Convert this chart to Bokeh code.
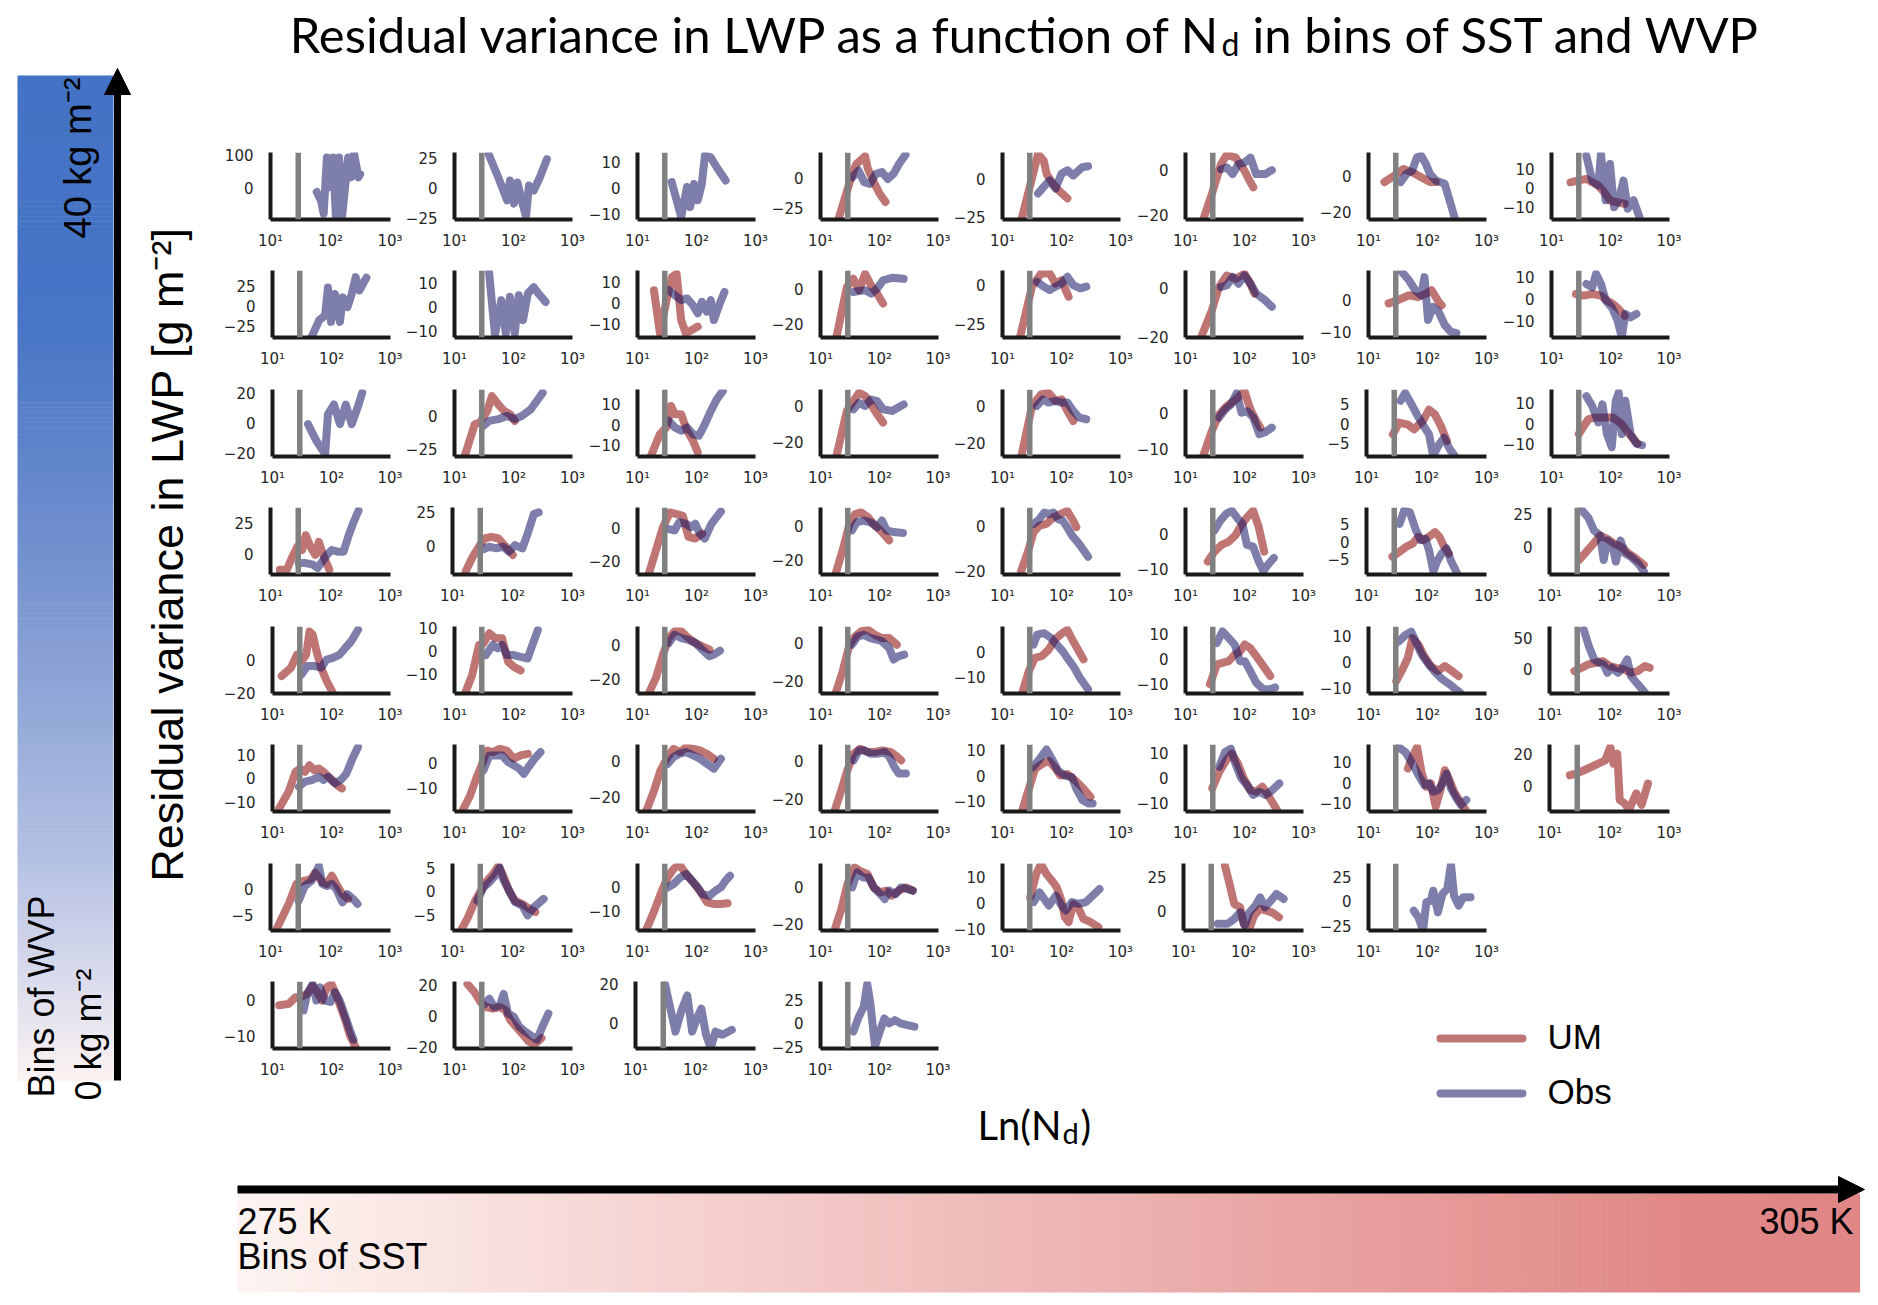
import numpy as np
from bokeh.plotting import figure
from bokeh.layouts import row, column
from bokeh.models import Range1d, FixedTicker, Span, ColumnDataSource
from bokeh.core.properties import value
from bokeh.embed import file_html
from bokeh.resources import INLINE

# ------------------------------------------------------------------ data
# x values are N_d (cm^-3), y values are residual LWP (g m^-2)
ND_MARK = 29
X_TICKS = [10, 100, 1000]
X_LABELS = ["10¹", "10²", "10³"]

# ---- row 1 (highest WVP bin)
R1_UM_N = [[], [], [],
           [20, 32, 40, 57, 63, 80, 100, 126],
           [21, 40, 50, 56, 71, 89, 126],
           [20, 28, 40, 50, 71, 100, 126, 141],
           [18.6, 27.5, 39, 55, 78, 110, 138],
           [21, 27.5, 39, 49, 62, 78, 98, 123, 174]]
R1_UM_V = [[], [], [],
           [-35, -2, 11, 18, 8, -3.6, -13, -20],
           [-26.6, 16.7, 12.4, 3.7, -2.8, -7.2, -12.6],
           [-22.2, -10.7, 2.7, 6.8, 5.6, -0.3, -5.5, -7.7],
           [-3.3, 0.4, 4, 2.2, -0.6, -3.3, -3.3],
           [3.1, 4, 4.9, 3.1, 1.4, -2.1, -6.4, -7.3, -8.2]]
R1_OBS_N = [[59, 69, 77, 87, 98, 110, 123, 139, 156, 175, 197, 220, 248, 292, 312],
            [38, 55, 78, 87, 102, 117, 138, 163, 183, 220, 279, 368],
            [38, 55, 69, 78, 91, 105, 123, 139, 175, 220, 312],
            [35, 44, 55, 69, 87, 110, 138, 173, 214, 275],
            [40, 50, 63, 79, 100, 126, 158, 224, 282],
            [40, 50, 63, 79, 100, 126, 158, 224, 290],
            [35, 44, 55, 66, 78, 94, 110, 138, 196, 246, 294],
            [39, 49, 62, 69, 83, 98, 115, 138, 166, 196, 246, 309]]
R1_OBS_V = [[-13, -38, -79, 93, 2, 93, -89, 93, -89, 2, 93, 32, 103, 32, 42],
            [28.6, 9.2, -10.3, 6.4, -13, 4.7, -10.3, -24, 2.2, -2, 9, 24.4],
            [2.2, -11.2, 0.3, -7.4, 1.5, -4.8, 1.5, 12.4, 11.7, 7.9, 2.8],
            [0.5, 6, -3.6, -5, 3.3, 4.7, -1, 3.3, 11.5, 19],
            [-9.3, -5, -0.7, -6, 3.7, 6, 2.6, 8, 8.7],
            [0.4, 1.2, -1.8, 2.7, 3.4, 5.6, -1.8, -1.8, 0],
            [-3.3, 1.3, 3.1, 10.5, 11.5, 6.9, 1.3, -2.4, -4.3, -15.4, -24.3],
            [17, 4, 1.4, 17.9, -6.4, 12.7, -10, -6.4, 4, -10.8, -6.4, -15.1]]
R1_YLIM = [(-97, 108), (-26.4, 30), (-12.2, 13.6), (-34.6, 21), (-26.6, 17.8),
           (-22.2, 7.9), (-24.3, 13.3), (-16.5, 18.8)]
R1_YTICKS = [[0, 100], [-25, 0, 25], [-10, 0, 10], [-25, 0], [-25, 0], [-20, 0],
             [-20, 0], [-10, 0, 10]]

# ---- row 2
R2_UM_N = [[], [],
           [19, 24, 31, 38.5, 46, 55, 66, 83, 105],
           [18.7, 28, 36, 45, 57, 72, 91, 115],
           [20, 31.6, 45, 63, 79, 100, 132],
           [18.6, 28, 37, 50, 71, 100, 126, 148],
           [22, 31, 49, 69, 94, 117, 155, 174],
           [26, 35, 49, 69, 87, 110, 138, 174]]
R2_UM_V = [[], [],
           [6.3, -14.2, 1.6, 12.6, 14.2, -7.9, -14.2, -12.6, -11],
           [-27.1, 0.9, 5.6, -0.9, 8.4, 1.9, -2.8, -8.4],
           [-33, -1, 7.5, 7.5, 1, 3.2, -7.5],
           [-19.7, -9.1, 0.3, 4.9, 3.6, 5.6, 1.6, -2.4],
           [-1, 0, 1.6, 1, 2.1, 3.2, -0.5, -1.6],
           [2.2, 1.5, 2.2, 1.5, -0.7, -2.2, -4.5, -7.5]]
R2_OBS_N = [[46, 62, 78, 87, 98, 115, 139, 156, 187, 220, 257, 298, 391],
            [38.5, 48.5, 62, 74, 87, 105, 123, 145, 175, 220, 265, 350],
            [34, 43, 55, 69, 87, 105, 123, 149, 175, 197, 248, 298],
            [36, 45, 57, 72, 91, 115, 163, 257],
            [38, 50, 63, 79, 100, 126, 158, 209, 263],
            [40, 50, 63, 79, 100, 126, 158, 224, 290],
            [37, 49, 62, 78, 89, 102, 123, 155, 196, 246, 309],
            [39, 49, 57, 69, 83, 105, 132, 155, 178, 219, 275]]
R2_OBS_V = [[-38.5, -17.6, -11.5, 23.4, -19.7, 15.2, -19.7, 11, -1.2, 15.2, 36.5, 19.7, 35.7],
            [14.6, -11.8, 2.8, -11.1, 4.2, -11.1, 4.9, -5.6, 5.6, 8.3, 5.6, 2.1],
            [6.3, 3.9, 1.6, 2.4, -0.8, -4.7, 0.8, -3.9, 1.6, -7.9, 0, 5.5],
            [-1.9, -1.3, -0.9, -2.8, 0, 4.7, 6.2, 5.6],
            [2.1, -1, -3.2, -1, 1, 5.3, 0, -2.1, -1],
            [0.3, 0.9, 4.3, 1.6, 4.9, 1.6, -2.4, -5.1, -7.7],
            [9, 6.3, 3.2, 1.6, 7.4, -6.3, -2.1, -3.7, -7.9, -10, -10.5],
            [6.7, 5.2, 11.2, 6.7, -0.7, -3.7, -9.7, -17, -6.7, -8.2, -6.7]]
R2_YLIM = [(-39.3, 44.7), (-12.9, 15.3), (-16.2, 15.7), (-27.7, 10.3), (-33.8, 9.4),
           (-20.1, 6.9), (-11.9, 9.5), (-17.2, 12.7)]
R2_YTICKS = [[-25, 0, 25], [-10, 0, 10], [-10, 0, 10], [-20, 0], [-25, 0], [-20, 0],
             [-10, 0], [-10, 0, 10]]

# ---- row 3
R3_UM_N = [[],
           [15, 22, 27, 36, 43, 55, 69, 87, 105],
           [17, 24, 31, 37, 43, 55, 69, 87, 105],
           [18.7, 28, 36, 45, 57, 72, 91, 115],
           [21, 31.6, 45, 60, 79, 100, 126, 158],
           [20, 28, 37, 50, 71, 100, 126, 158, 186],
           [27.5, 35, 49, 62, 87, 110, 138, 174, 219],
           [29, 42, 55, 78, 110, 155, 219, 288]]
R3_UM_V = [[],
           [-30, -6.3, -5, 3.8, 15, 8.8, 3.8, 1.3, -3.8],
           [-14.9, -4.5, -1.3, 9.1, 5.1, 5.1, -2.9, -7.7, -13.3],
           [-27.3, -2.7, 2.7, 7.3, 5.5, 0.9, -4.5, -9.1],
           [-26.5, 0, 6.2, 7.1, 2.7, 3.5, -2.7, -8],
           [-11.9, -4.9, -0.3, 2, 3.9, 6.2, 1.1, -2.1, -4],
           [-2.7, 0.3, -0.2, -1.4, 0.7, 3.6, 2.4, -0.6, -4.4],
           [-5.2, 2.1, 3, 3, 3, -0.3, -6.1, -10]]
R3_OBS_N = [[40, 55, 78, 87, 110, 139, 175, 220, 265, 332],
            [31, 38.5, 55, 78, 105, 139, 197, 248, 312],
            [34, 43, 55, 69, 87, 110, 139, 175, 220, 279],
            [36, 45, 57, 72, 91, 115, 163, 230, 257],
            [38, 48, 60, 79, 100, 126, 158, 200, 263],
            [37, 47, 59, 74, 89, 112, 141, 178, 224, 290],
            [37, 44, 55, 69, 87, 110, 129, 162, 196, 246, 294],
            [39, 49, 62, 73, 87, 105, 123, 138, 155, 178, 219, 275, 343]]
R3_OBS_V = [[-1.1, -12, -21, 5.5, 12, -1.1, 12, -1.1, 7.7, 19.8],
            [-7.5, -3.8, -2.5, 0, -2.5, 0, 5, 11.3, 17.5],
            [1.9, -1.3, -2.9, -1.3, -4.5, -5.3, 0.3, 6.7, 12.3, 16.3],
            [-1.8, 1.8, 0, 3.6, 2.7, -1.8, -2.7, 0, 0.9],
            [0, 3.5, 1.8, 2.7, 1.8, 1.8, -2.7, -6.2, -7.1],
            [-1.2, 1.1, 2.5, 5.7, 0.2, 0.6, -1.2, -5.8, -5.3, -4],
            [5.9, 7.9, 5.3, 2.4, -0.2, -2.7, -8.2, -5.3, -3.6, -6.6, -8.2],
            [13.6, 8.7, 0.5, 9.5, -5.2, -11.8, 11.3, 15.4, -5.2, 11.3, -5.2, -10, -10.8]]
R3_YLIM = [(-22.6, 22), (-30.8, 20), (-15.4, 17.1), (-27.8, 9.1), (-27, 8.8),
           (-12.1, 6.7), (-8.4, 8.8), (-16.4, 16.9)]
R3_YTICKS = [[-20, 0, 20], [-25, 0], [-10, 0, 10], [-20, 0], [-20, 0], [-10, 0],
             [-5, 0, 5], [-10, 0, 10]]

# ---- row 4
R4_UM_N = [[14.3, 18.8, 22.5, 28, 33.6, 38.7, 46.4, 55.6, 64, 77, 95.6],
           [16.6, 21.8, 27.5, 34, 44.6, 58.6, 77, 101],
           [15.7, 20.6, 27, 35.5, 46.4, 58.6, 73, 95.6, 125],
           [18.2, 23.8, 31, 38.7, 49, 64, 84, 110, 146],
           [20.6, 27, 33.6, 42.4, 55.6, 73, 95.6, 125, 158, 179],
           [23.8, 31, 41, 54, 70, 88, 110, 140, 174, 216],
           [27, 35.5, 46, 58.6, 73, 88, 108, 138, 165, 197, 236],
           [31, 41, 54, 70, 92, 121, 158, 209, 273, 373]]
R4_UM_V = [[-12.4, -12.4, -3.2, 6.1, 3.4, 15.3, 6.1, -0.5, 10, -1.8, -12.4],
           [-18.7, -7.8, -0.5, 5.6, 6.8, 5.6, -0.5, -6.6],
           [-27.3, -13.5, 0.4, 9.3, 8.3, 7.3, -5.5, -6.5, -3.6],
           [-27.3, -13.8, 1.5, 7.3, 8.3, 5.4, 0.6, -3.3, -8.1],
           [-20, -11.4, -2.9, 0, 0.7, 3.6, 5, 6.4, 2.1, -0.7],
           [-7.9, -5.1, -3.2, -2.3, -0.5, 2.3, 4.6, 6.5, 1.9, -5.1],
           [-4.2, -2.8, -1.4, -0.5, 1.4, 0.5, 1.4, 2.8, 1.4, -1.4, -3.3],
           [-9.8, -3.7, 2.5, 8.6, 6.1, 2.5, 0, -4.9, -8.6, -13.5]]
R4_OBS_N = [[29.5, 38.7, 51, 61, 73, 87, 105, 132, 165, 197, 236, 293],
            [31, 40.9, 54, 70, 87.6, 110, 146, 179, 227, 273],
            [32.4, 42.4, 51, 66.7, 80, 95.6, 114, 138, 179, 259],
            [34, 40.9, 54, 70, 92, 110, 132, 174, 250],
            [33.6, 42.4, 51, 61, 73, 87, 105, 125, 150, 197, 236, 282],
            [31, 39, 49, 61, 77, 92, 110, 140, 174, 209, 250, 315],
            [35.5, 42.4, 53, 66.7, 80, 95.6, 110, 130, 150, 179, 216, 259, 322],
            [34, 44.6, 55.6, 70, 80, 92, 110, 128, 153, 182, 227, 298, 373]]
R4_OBS_V = [[-7.1, -7.1, -8.4, -11, -5.8, -0.5, 3.4, 2.1, 2.1, 13.9, 24.5, 35],
            [-2.9, -0.5, -1.7, -0.5, -4.1, 0.7, -1.7, 9.2, 23.8, 25],
            [-0.6, -1.6, 3.4, 2.4, 0.4, 2.4, -3.6, -6.5, 2.4, 9.9],
            [-2.3, 2.5, 3.5, 2.5, -0.4, 3.5, -2.3, -3.3, -3.8],
            [0.7, 2.9, 5.7, 5, 5.7, 2.9, 2.1, -0.7, -4.3, -7.9, -10.7, -13.6],
            [0.9, 3.7, 5.6, 6.5, 4.2, 2.8, -3.2, -3.7, -7.9, -10.6, -8.8, -6.9],
            [5.1, 8.9, 8.4, 3.3, 0.5, 0.9, -2.3, -8.4, -5.6, -3.3, -1.9, -5.6, -8.9],
            [28.2, 22.1, 12.3, 8.6, -9.8, 4.9, 2.5, -11, 4.9, -4.9, -7.4, -12.3, -18.4]]
R4_YLIM = [(-16.3, 37.6), (-21.1, 28.6), (-28.3, 12.3), (-28.3, 11.2), (-21.4, 7.9),
           (-11.6, 7.4), (-9.3, 9.8), (-20.8, 29.9)]
R4_YTICKS = [[0, 25], [0, 25], [-20, 0], [-20, 0], [-20, 0], [-10, 0], [-5, 0, 5], [0, 25]]

# ---- row 5
R5_UM_N = [[14.3, 20.6, 26, 31, 37.3, 42.4, 48, 55.6, 66.7, 82.8, 105],
           [15, 19.9, 26, 31, 39, 49, 64, 81, 101, 132],
           [15.7, 20.6, 27, 34, 42.4, 55.6, 73, 95.6, 125, 165],
           [18.2, 23.8, 31, 38.7, 49, 64, 84, 110, 146, 197],
           [21.8, 28, 35.5, 46.4, 61, 77, 95.6, 125, 158, 197, 236],
           [26, 34, 42.4, 54, 68, 84, 101, 125, 158, 209, 273],
           [29.5, 38.7, 46.4, 55.6, 70, 88, 114, 150, 197, 259, 337],
           [26, 34, 44.6, 58.6, 77, 101, 132, 174, 227, 298, 390, 466]]
R5_UM_V = [[-9.7, -4.5, 3.7, -0.4, 3.7, 18.1, 16.1, 5.8, -4.5, -12.8, -20],
           [-18.4, -10.4, 2.6, 3.3, 7.7, 5.5, 5.5, -4.6, -6.8, -8.3],
           [-27.8, -19, -5.4, 4.3, 8.2, 8.2, 4.3, 1.4, -0.6, -2.5],
           [-26.1, -14.8, -0.9, 3.5, 6.1, 7, 4.3, 2.6, 2.6, -0.9],
           [-16.3, -7.6, -2.3, -1.6, 1.1, 5.1, 7.1, 9.1, 4.4, 0.4, -2.9],
           [-10.1, -2.2, -1.6, -0.9, 1.7, 3, 5.7, 4.3, 1.1, -2.9, -6.8],
           [-7.3, -2.2, 1.7, 9.3, 6.8, 2.3, -1.5, -3.4, -1.5, -3.4, -5.4],
           [-2.6, 2.6, 7.9, 10.5, 13.2, 5.3, 2.6, 0, -5.3, -2.6, 5.3, 2.6]]
R5_OBS_N = [[31, 38.7, 51, 66.7, 82.8, 105, 138, 171, 216, 282],
            [34, 44.6, 54, 64, 77, 101, 132, 174, 209, 259],
            [34, 42.4, 55.6, 73, 95.6, 125, 165, 197, 250],
            [34, 43, 54, 70, 92, 110, 146, 174, 209, 262],
            [33.6, 38.7, 51, 66.7, 82.8, 105, 125, 165, 204, 282],
            [34, 42.4, 54, 68, 84, 101, 125, 158, 209, 273, 330],
            [32.4, 42.4, 53, 63, 80, 105, 138, 179, 236, 298, 354],
            [37.3, 46.4, 55.6, 66.7, 80, 92, 110, 138, 158, 197, 227, 298, 390]]
R5_OBS_V = [[-8.7, -3.5, -3.5, -4.5, 0.6, 1.6, 3.7, 7.8, 12, 19.2],
            [-1.7, 2.6, 1.2, 2.6, -1.7, -1.7, -2.5, -3.2, 2.6, 9.1],
            [1.4, 6.2, 4.3, 3.3, 1.4, -2.5, -6.4, -5.4, -3.1],
            [-0.9, 3.5, 4.3, 2.6, 1.7, 0.9, -2.6, -8.7, -7, -6.1],
            [3.1, 7.1, 7.7, 5.7, 3.1, 0.4, -2.3, -6.3, -10.3, -15],
            [6.3, 10.9, 8.3, 5.7, -0.9, -0.9, -4.9, -9.5, -12.1, -12.1, -11.4],
            [8, 10.5, 11.8, 8, 2.9, -0.9, -4.1, -6.6, -8.5, -10.4, -11.7],
            [63, 34, 15.8, 10.5, 7.9, -5.3, 2.6, -5.3, 0, 15.8, -10.5, -23.7, -36.8]]
R5_YLIM = [(-20.6, 21.2), (-18.3, 10.6), (-28.3, 11.1), (-26.6, 8.7), (-16.7, 10.4),
           (-13.8, 12.9), (-12.1, 13.8), (-38.4, 68.4)]
R5_YTICKS = [[-20, 0], [-10, 0, 10], [-20, 0], [-20, 0], [-10, 0], [-10, 0, 10],
             [-10, 0, 10], [0, 50]]

# ---- row 6
R6_UM_N = [[13, 18.8, 24.6, 29.5, 35.5, 42.4, 51, 61, 73, 95.6, 125, 150],
           [13.9, 18.1, 23.8, 29.5, 35.5, 44.6, 58.6, 77, 101, 132, 174],
           [14.3, 18.8, 24.6, 32.4, 40.9, 53, 66.7, 87.6, 114, 150, 197],
           [17.6, 22.6, 28.6, 36.3, 46.9, 62.5, 85, 111, 155, 201, 233],
           [21.8, 28, 35.5, 46.4, 61, 77, 95.6, 125, 171, 236, 310],
           [28.4, 37.3, 49, 61, 77, 97, 125, 158, 201, 259, 354],
           [46.4, 55.6, 66.7, 80, 95.6, 114, 138, 165, 197, 236, 282, 370, 441],
           [21.8, 28.6, 37.7, 49.5, 65, 85, 103, 117, 135, 148, 178, 212, 280, 343, 438]]
R6_UM_V = [[-12.9, -5.7, 2.9, 4.3, 2.9, 5.7, 3.6, 4.3, 2.9, 0, -2.9, -4.3],
           [-18.4, -13.2, -5.5, -0.3, 4.9, 4.3, 5.6, 4.9, 1.7, 3, 3.6],
           [-26.9, -16.9, -5.1, 2.2, 6.7, 4.9, 7.6, 6.7, 5.8, 4, 1.3],
           [-25.5, -15.2, -4.8, 3.8, 6.4, 4.7, 4.7, 5.5, 4.7, 2.1, 0.3],
           [-13.5, -5.2, 2.6, 4.5, 5.8, 3.2, 0, 0.6, -1.9, -5.2, -8.4],
           [-3.9, 2.6, 7.2, 9.9, 5.9, 0, -4.6, -5.3, -3.3, -7.2, -12.5],
           [6.9, 12.5, 17.3, 4.5, -1.9, -0.3, -11.5, -3.5, 6.1, 1.3, -4.3, -9.9, -13.1],
           [6.7, 7.8, 9.8, 11.8, 13.9, 15.9, 24.1, 13.9, 20, -8.6, -10.6, -14.7, -4.5, -11.6, 1.6]]
R6_OBS_N = [[28, 35.5, 46.4, 61, 73, 87, 114, 143, 179, 227, 282],
            [31, 39, 49, 64, 81, 101, 125, 150, 179, 227, 287],
            [32.4, 40.9, 51, 66.7, 87.6, 114, 150, 197, 259],
            [36.3, 45, 56, 71, 94, 123, 148, 178, 212, 280],
            [32.4, 42.4, 55.6, 69, 88, 114, 150, 179, 227, 282, 337],
            [37.3, 47, 58.6, 70, 88, 110, 140, 179, 227, 298, 390],
            [32.4, 42.4, 55.6, 73, 88, 105, 125, 150, 179, 209, 250, 298, 370, 456],
            []]
R6_OBS_V = [[-3.6, -1.4, -0.7, 0.7, -0.7, 0.7, -2.1, -0.7, 2.1, 8.6, 13.6],
            [-2.9, 3, 3, 3, 0.4, -0.9, -2.2, -4.2, -1.6, 1.7, 4.3],
            [-1.5, 2.2, 4, 4.9, 3.1, 1.3, -1.5, -4.2, 1.3],
            [0.3, 5.5, 5.5, 3.8, 3.8, 4.7, 2.1, -3.1, -6.6, -6.6],
            [3.2, 6.5, 10.3, 6.5, 1.9, 0, -0.6, -5.2, -9.7, -11, -11],
            [4.6, 10.5, 11.8, 5.9, 0, -2.6, -6.6, -5.3, -6.6, -4.6, -2],
            [17.3, 14.9, 9.3, 2.9, -1.1, -0.3, -4.3, -3.5, -0.3, 4.5, -2.7, -6.7, -10.7, -8.3],
            []]
R6_YLIM = [(-14.3, 14.7), (-19.1, 7.3), (-27.8, 9.1), (-26.4, 8.6), (-14.2, 12.3),
           (-13.2, 13.5), (-13.9, 18.6), (-15.7, 25.7)]
R6_YTICKS = [[-10, 0, 10], [-10, 0], [-20, 0], [-20, 0], [-10, 0, 10], [-10, 0, 10],
             [-10, 0, 10], [0, 20]]

# ---- row 7
R7_UM_N = [[12.6, 15.7, 20.6, 27, 35.5, 46.4, 55.6, 73, 87, 105, 125, 158, 197],
           [14.3, 18.1, 23.8, 31, 37.3, 47, 58.6, 70, 88, 110, 146, 190, 240],
           [14.3, 18.8, 24.6, 32.4, 40.9, 51, 66.7, 87.6, 114, 150, 197, 259, 337],
           [17.6, 22.6, 28.6, 37.7, 46.9, 62.5, 80, 103, 130, 163, 212, 280, 366],
           [29.5, 37.3, 44.6, 55.6, 69, 82.8, 100, 114, 132, 158, 190, 236, 310, 422],
           [49, 58.6, 70, 88, 101, 125, 150, 190, 240, 298, 390],
           []]
R7_UM_V = [[-7.8, -5.5, -2.6, 1, 1.6, 1.9, 3.2, 1.3, 1, 2.6, 1, -1, -1.9],
           [-7.9, -5.5, -2, 0.5, 2.2, 3.6, 5.4, 3.3, 0.1, -2, -2.7, -3.7, -4.4],
           [-17.6, -10.7, -3.1, 3.9, 7.4, 9.4, 5.3, 1.8, -1.7, -6.5, -7.2, -7.2, -6.9],
           [-22.3, -11.8, 1.4, 10.2, 8.4, 6.7, -0.4, -3, -2.1, -4.7, -2.1, -0.4, -2.1],
           [2.2, 11.2, 15.1, 11.2, 8.6, 6.1, 0.9, -5.5, -7.4, -0.4, -1.7, -6.2, -7.4, -9.4],
           [33.8, 20, 5, 2.5, -10, -13.8, -3.8, 1.3, 0, -1.3, -5],
           []]
R7_OBS_N = [[29.5, 37.3, 48, 55.6, 64, 73, 87, 105, 125, 158, 190, 236, 282],
            [26, 32.6, 41, 51, 61, 70, 88, 110, 146, 179, 227, 330],
            [32.4, 40.9, 53, 66.7, 84, 105, 125, 165, 209, 259, 310, 370],
            [34.5, 41.7, 52.5, 65, 80, 103, 123, 148, 187, 233, 290, 366],
            [33.6, 42.4, 51, 61, 80, 100, 118, 150, 197, 259, 337, 441],
            [37.3, 54, 70, 88, 105, 125, 158, 190, 227, 287, 354, 466],
            [58.6, 70, 84, 95.6, 114, 125, 150, 179, 216, 250, 282, 337, 403, 536]]
R7_OBS_V = [[-2.3, 0.6, 1.6, 2.9, 4.5, 1, 0.6, 1, 0, -2.6, -1, -1.9, -2.9],
            [-2, 0.8, 1.9, 3.3, 5, 2.6, 0.1, -2.3, -3, -5.1, -3.4, -1.6],
            [-0.3, 1.1, 3.9, 5.3, 2.5, -0.3, -3.1, -3.8, -1.7, -0.3, 2.5, 4.6],
            [-0.4, 7.6, 4.9, 4.9, -0.4, -3.9, -6.5, -2.1, -3.9, -0.4, -1.2, -2.1],
            [0.3, 4.1, 1.5, -1, 2.8, -1, -2.9, 0.3, -0.4, 0.3, 2.8, 5.4],
            [-10, -10, -6.3, -1.3, -11.3, -1.3, 3.8, 10, 2.5, 7.5, 12.5, 8.8],
            [-9.5, -16.2, -29.7, -1, 0.7, 10.8, -11.1, 7.4, 12.5, 37.8, 5.7, -4.4, 4.1, 4.1]]
R7_YLIM = [(-8.1, 5), (-8.3, 5.9), (-18.3, 9.7), (-23.2, 12.3), (-10.7, 15.3),
           (-15, 35.5), (-29.7, 38.5)]
R7_YTICKS = [[-5, 0], [-5, 0, 5], [-10, 0], [-20, 0], [-10, 0, 10], [0, 25], [-25, 0, 25]]

# ---- row 8 (lowest WVP bin)
R8_UM_N = [[13, 18.8, 24.6, 29.5, 38.7, 48, 57, 69, 83, 100, 118, 143, 171, 204, 259],
           [16.6, 21.8, 27.5, 34, 44.6, 58.6, 73, 88, 110, 146, 179, 227, 298],
           [], []]
R8_UM_V = [[-1.5, -1.1, 0.7, 0.7, 1.6, 3.8, 2.1, -0.2, 3.4, 4.3, 1.6, -2, -5.5, -9.6, -13.1],
           [20.6, 15.4, 9.1, 5.9, 4.8, 5.9, 3.8, -2.5, -6.7, -12, -16.2, -18.3, -14.1],
           [], []]
R8_OBS_N = [[33.6, 38.7, 48, 55.6, 64, 77, 96, 114, 138, 165, 204, 236],
            [32.6, 39, 47, 58.6, 68, 81, 101, 125, 158, 209, 250, 310, 390],
            [31, 38.7, 46.4, 58.6, 73, 88, 105, 125, 150, 179, 216, 282, 403],
            [36, 44.6, 54, 62, 70, 84, 101, 121, 146, 182, 227, 298, 390]]
R8_OBS_V = [[-2.9, 1.6, 4.3, -0.2, 3.4, -0.2, -0.6, 2.1, -0.2, -3.8, -8.2, -10.9],
            [8, 11.2, 5.9, 6.9, 14.3, 1.7, -0.4, -6.7, -9.9, -13.1, -15.2, -6.7, 1.7],
            [20, 6.7, -4.2, 6.7, 14.2, -4.2, 2.5, 7.5, -5.8, -12.5, -4.2, -5.8, -3.3],
            [-8.8, 7, 17.6, 42.3, 21.1, -24.6, -8.8, 5.3, 0, 3.5, 0, -1.8, -3.5]]
R8_YLIM = [(-13.3, 5), (-20.8, 22.3), (-12.8, 21.3), (-27, 45)]
R8_YTICKS = [[-10, 0], [-20, 0, 20], [0, 20], [-25, 0, 25]]

ROWS = [
    (R1_UM_N, R1_UM_V, R1_OBS_N, R1_OBS_V, R1_YLIM, R1_YTICKS),
    (R2_UM_N, R2_UM_V, R2_OBS_N, R2_OBS_V, R2_YLIM, R2_YTICKS),
    (R3_UM_N, R3_UM_V, R3_OBS_N, R3_OBS_V, R3_YLIM, R3_YTICKS),
    (R4_UM_N, R4_UM_V, R4_OBS_N, R4_OBS_V, R4_YLIM, R4_YTICKS),
    (R5_UM_N, R5_UM_V, R5_OBS_N, R5_OBS_V, R5_YLIM, R5_YTICKS),
    (R6_UM_N, R6_UM_V, R6_OBS_N, R6_OBS_V, R6_YLIM, R6_YTICKS),
    (R7_UM_N, R7_UM_V, R7_OBS_N, R7_OBS_V, R7_YLIM, R7_YTICKS),
    (R8_UM_N, R8_UM_V, R8_OBS_N, R8_OBS_V, R8_YLIM, R8_YTICKS),
]

# ------------------------------------------------------------------ style
UM_COLOR, UM_ALPHA = "#961919", 0.6
OBS_COLOR, OBS_ALPHA = "#141464", 0.55
SPINE = "#1a1a1a"
TICK_FONT = "DejaVu Sans"
LINE_W = 8
# text glyphs land a little below their anchor; compensate per font
TEXT_SHIFT = {"Lato": 20, "Liberation Sans": 12}

# ------------------------------------------------------------------ geometry (screen px)
PAGE_X1, PAGE_Y1 = 1876, 1303
AX_LEFT0, COL_PITCH, BORDER_L, FRAME_W = 269.6, 182.7, 50, 120
ROW_TOP0, ROW_PITCH, BORDER_T, FRAME_H = 144, 118.43, 8, 67
col_edges = [int(AX_LEFT0 - BORDER_L + c * COL_PITCH + 0.5) for c in range(9)]
row_edges = [int(ROW_TOP0 + r * ROW_PITCH + 0.5) for r in range(9)]
row_edges[8] = 1160   # last row is taller: legend and x-label live beside/below it


def minus(t):
    return ("\u2212" + str(-t)) if t < 0 else str(t)


def panel(um_n, um_v, ob_n, ob_v, ylim, yticks, w, h):
    p = figure(width=w, height=h, x_axis_type="log",
               x_range=Range1d(10, 1000), y_range=Range1d(ylim[0], ylim[1]),
               output_backend="svg", toolbar_location=None,
               min_border_left=BORDER_L, min_border_right=w - BORDER_L - FRAME_W,
               min_border_top=BORDER_T, min_border_bottom=h - BORDER_T - FRAME_H)
    p.outline_line_color = None
    p.grid.visible = False
    p.xaxis.ticker = FixedTicker(ticks=X_TICKS)
    p.xaxis.major_label_overrides = {t: l for t, l in zip(X_TICKS, X_LABELS)}
    p.yaxis.ticker = FixedTicker(ticks=yticks)
    p.yaxis.major_label_overrides = {t: minus(t) for t in yticks}
    for ax in (p.xaxis[0], p.yaxis[0]):
        ax.axis_line_width = 4
        ax.axis_line_color = SPINE
        ax.major_tick_in = 0
        ax.major_tick_out = 0
        ax.minor_tick_in = 0
        ax.minor_tick_out = 0
        ax.major_tick_line_color = None
        ax.minor_tick_line_color = None
        ax.major_label_text_font = TICK_FONT
        ax.major_label_text_font_size = "15px"
        ax.major_label_text_color = "#262626"
    p.xaxis.major_label_standoff = 12
    p.yaxis.major_label_standoff = 17
    if um_n:
        p.line(x="n", y="v", source=ColumnDataSource(dict(n=um_n, v=um_v)),
               line_color=UM_COLOR, line_alpha=UM_ALPHA, line_width=LINE_W,
               line_join="round", line_cap="round")
    if ob_n:
        p.line(x="n", y="v", source=ColumnDataSource(dict(n=ob_n, v=ob_v)),
               line_color=OBS_COLOR, line_alpha=OBS_ALPHA, line_width=LINE_W,
               line_join="round", line_cap="round")
    p.add_layout(Span(location=ND_MARK, dimension="height",
                      line_color="#808080", line_width=5.5))
    return p


def deco(x0, x1, y0, y1, bt=0, bb=0):
    # ranges are in page px; frame spans the canvas unless borders are requested
    p = figure(width=x1 - x0, height=y1 - y0,
               x_range=Range1d(x0, x1), y_range=Range1d(y1 - bb, y0 + bt),
               output_backend="svg", toolbar_location=None,
               x_axis_location=None, y_axis_location=None,
               min_border_left=0, min_border_right=0,
               min_border_top=bt, min_border_bottom=bb)
    p.outline_line_color = None
    p.grid.visible = False
    return p


def txt(p, x, y, s, size, font="Liberation Sans", align="left", angle=0.0, level="glyph"):
    shift = TEXT_SHIFT[font]
    if angle:
        x = x - shift
    else:
        y = y - shift
    p.text(x=[x], y=[y], text=[s], text_font=value(font), text_font_size=value(size),
           text_align=align, text_baseline="alphabetic", text_color="black",
           angle=angle, level=level)


def gradient(stops, pos):
    sp = np.array([s[0] for s in stops], float)
    cols = np.array([s[1] for s in stops], float)
    out = []
    for q in pos:
        rgb = [int(round(np.interp(q, sp, cols[:, k]))) for k in range(3)]
        out.append("#%02x%02x%02x" % tuple(rgb))
    return out


# ------------------------------------------------------------------ left decoration
left = deco(0, col_edges[0], 0, PAGE_Y1)
BLUE_STOPS = [(75, (68, 114, 196)), (330, (72, 117, 198)), (600, (124, 151, 208)),
              (850, (178, 191, 226)), (1000, (224, 224, 238)), (1080, (252, 243, 241))]
ys = np.linspace(75, 1080, 201)
mid = 0.5 * (ys[:-1] + ys[1:])
left.quad(left=17, right=113, top=ys[:-1], bottom=ys[1:] + 0.6,
          fill_color=gradient(BLUE_STOPS, mid), line_color=None)
left.segment(x0=[117], y0=[1080], x1=[117], y1=[90], line_color="black", line_width=7)
left.patch(x=[117, 104, 130], y=[68, 94, 94], fill_color="black", line_color="black")
txt(left, 89, 238, "40 kg m⁻²", "38px", angle=np.pi / 2)
txt(left, 100, 1100, "0 kg m⁻²", "36px", angle=np.pi / 2)
txt(left, 53, 1097, "Bins of WVP", "36px", angle=np.pi / 2)
txt(left, 179, 554, "Residual variance in LWP [g m⁻²]", "45px", align="center", angle=np.pi / 2)

# ------------------------------------------------------------------ title
title = deco(col_edges[0], PAGE_X1, 0, row_edges[0])
txt(title, 1221, 53, "Residual variance in LWP as a function of N", "49px", font="Lato", align="right")
txt(title, 1221, 63, "d", "32px", font="Lato")
txt(title, 1252, 53, "in bins of SST and WVP", "49px", font="Lato")

# ------------------------------------------------------------------ legend + x-axis label
# (beside the row-8 panels; frame aligned with theirs, marks drawn unclipped at overlay level)
lg_h = row_edges[8] - row_edges[7]
legend = deco(col_edges[4], col_edges[8], row_edges[7], row_edges[8],
              bt=BORDER_T, bb=lg_h - BORDER_T - FRAME_H)
legend.segment(x0=[1440], y0=[1038], x1=[1522], y1=[1038], line_color=UM_COLOR,
               line_alpha=UM_ALPHA, line_width=8, line_cap="round", level="overlay")
legend.segment(x0=[1440], y0=[1093], x1=[1522], y1=[1093], line_color=OBS_COLOR,
               line_alpha=OBS_ALPHA, line_width=8, line_cap="round", level="overlay")
txt(legend, 1547, 1048, "UM", "35px", level="overlay")
txt(legend, 1547, 1103, "Obs", "35px", level="overlay")
txt(legend, 1061, 1144, "Ln(N", "40px", font="Lato", align="right", level="overlay")
txt(legend, 1062, 1152, "d", "29px", font="Lato", level="overlay")
txt(legend, 1080, 1144, ")", "40px", font="Lato", level="overlay")

# ------------------------------------------------------------------ bottom decoration
bottom = deco(col_edges[0], PAGE_X1, row_edges[8], PAGE_Y1)
RED_STOPS = [(237, (253, 244, 241)), (640, (246, 213, 211)), (1050, (238, 183, 182)),
             (1450, (230, 153, 152)), (1700, (224, 134, 134)), (1859, (224, 134, 134))]
xs = np.linspace(237, 1859, 271)
midx = 0.5 * (xs[:-1] + xs[1:])
bottom.quad(left=xs[:-1], right=xs[1:] + 0.6, top=1193, bottom=1292,
            fill_color=gradient(RED_STOPS, midx), line_color=None)
bottom.segment(x0=[237], y0=[1189], x1=[1842], y1=[1189], line_color="black", line_width=8)
bottom.patch(x=[1864, 1838, 1838], y=[1189, 1176, 1202], fill_color="black", line_color="black")
txt(bottom, 237, 1233, "275 K", "36px")
txt(bottom, 237, 1268, "Bins of SST", "36px")
txt(bottom, 1853, 1233, "305 K", "36px", align="right")

# ------------------------------------------------------------------ grid of panels
grid_rows = []
for r, (um_n, um_v, ob_n, ob_v, ylim, yt) in enumerate(ROWS):
    h = row_edges[r + 1] - row_edges[r]
    cells = []
    for c in range(len(ob_n)):
        w = col_edges[c + 1] - col_edges[c]
        cells.append(panel(um_n[c], um_v[c], ob_n[c], ob_v[c], ylim[c], yt[c], w, h))
    if r == 7:
        cells.append(legend)
    grid_rows.append(row(*cells))

page = row(left, column(title, *grid_rows, bottom))
open("out.html", "w").write(file_html(page, INLINE, "Residual variance in LWP"))
